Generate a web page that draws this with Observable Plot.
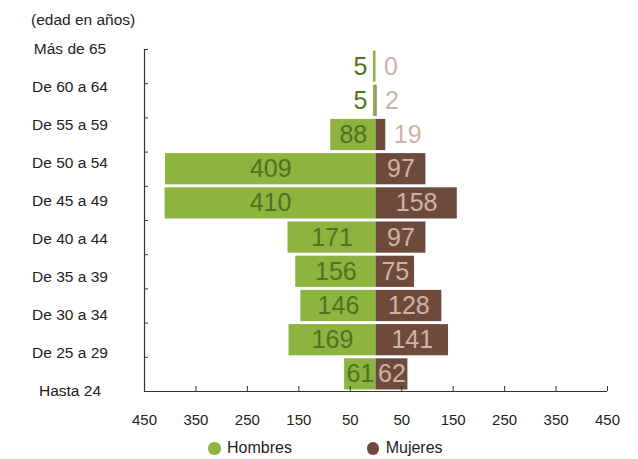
<!DOCTYPE html>
<html>
<head>
<meta charset="utf-8">
<script src="https://cdn.jsdelivr.net/npm/d3@7"></script>
<script src="https://cdn.jsdelivr.net/npm/@observablehq/plot@0.6"></script>
<style>
  body { margin: 0; background: #fff; font-family: "Liberation Sans", Arial, Helvetica, sans-serif; color: #222; }
  #title { height: 36px; line-height: 40px; padding-left: 31px; font-size: 15.5px; }
  #legend { position: relative; height: 23px; font-size: 16px; }
  #legend .dot { position: absolute; top: 6px; width: 12.5px; height: 12.5px; border-radius: 50%; }
  #legend .lab { position: absolute; top: 0; line-height: 24px; }
</style>
</head>
<body>
<div id="title">(edad en años)</div>
<div id="chart"></div>
<div id="legend"></div>
<script>
const categories = ["Más de 65","De 60 a 64","De 55 a 59","De 50 a 54","De 45 a 49","De 40 a 44","De 35 a 39","De 30 a 34","De 25 a 29","Hasta 24"];
const hombres = [5, 5, 88, 409, 410, 171, 156, 146, 169, 61];
const mujeres = [0, 2, 19, 97, 158, 97, 75, 128, 141, 62];
const xTicks = [-450, -350, -250, -150, -50, 50, 150, 250, 350, 450];
const seriesNames = ["Hombres", "Mujeres"];
const barColors = ["#8cb43f", "#6e4a3d"];
const labelColors = ["#4f7224", "#cdb3a6"];

const rows = categories.map((c, i) => ({cat: c, i, h: hombres[i], m: mujeres[i]}));
const xDomain = [-450, 450];
const yDomain = [0, categories.length];
const small = 30;
const font = 25;

const plot = Plot.plot({
  width: 638,
  height: 400,
  marginTop: 13,
  marginBottom: 45,
  marginLeft: 144,
  marginRight: 31,
  style: {fontFamily: '"Liberation Sans", Arial, Helvetica, sans-serif', color: "#222", background: "#fff"},
  x: {domain: xDomain},
  y: {domain: yDomain, reverse: true},
  marks: [
    Plot.rect(rows, {x1: 0, x2: d => -d.h, y1: "i", y2: d => d.i + 1, fill: barColors[0], insetTop: 1.5, insetBottom: 1.5}),
    Plot.rect(rows, {x1: 0, x2: "m", y1: "i", y2: d => d.i + 1, fill: barColors[1], insetTop: 1.5, insetBottom: 1.5}),
    Plot.text(rows.filter(d => d.h >= small), {x: d => -d.h / 2, y: d => d.i + 0.5, text: d => String(d.h), fill: labelColors[0], fontSize: font}),
    Plot.text(rows.filter(d => d.h < small), {x: d => -d.h, y: d => d.i + 0.5, text: d => String(d.h), fill: labelColors[0], fontSize: font, textAnchor: "end", dx: -6}),
    Plot.text(rows.filter(d => d.m >= small), {x: d => d.m / 2, y: d => d.i + 0.5, text: d => String(d.m), fill: labelColors[1], fontSize: font}),
    Plot.text(rows.filter(d => d.m < small), {x: d => d.m, y: d => d.i + 0.5, text: d => String(d.m), fill: labelColors[1], fontSize: font, textAnchor: "start", dx: 8}),
    Plot.ruleX([xDomain[0]], {stroke: "#333", strokeWidth: 1.2}),
    Plot.ruleY([yDomain[1]], {stroke: "#333", strokeWidth: 1.2}),
    Plot.axisY({ticks: d3.range(0, categories.length + 1), tickSize: -4, fill: "none", stroke: "#333", label: null}),
    Plot.axisY({ticks: categories.map((c, i) => i * categories.length / (categories.length - 1)),
                tickFormat: v => categories[Math.round(v * (categories.length - 1) / categories.length)],
                tickSize: 0, tickPadding: 74.5, textAnchor: "middle", fontSize: 15.5, fill: "#222", label: null}),
    Plot.axisX({ticks: xTicks, tickSize: -5, fill: "none", stroke: "#333", label: null}),
    Plot.axisX({ticks: xTicks, tickFormat: d => String(Math.abs(d)), tickSize: 0, tickPadding: 23, fontSize: 15, fill: "#222", label: null})
  ]
});
document.getElementById("chart").append(plot);

const legend = document.getElementById("legend");
const dotX = [208, 366.7];
seriesNames.forEach((name, k) => {
  const dot = document.createElement("span");
  dot.className = "dot";
  dot.style.left = dotX[k] + "px";
  dot.style.background = barColors[k];
  const lab = document.createElement("span");
  lab.className = "lab";
  lab.style.left = (dotX[k] + 19) + "px";
  lab.textContent = name;
  legend.append(dot, lab);
});
</script>
</body>
</html>
